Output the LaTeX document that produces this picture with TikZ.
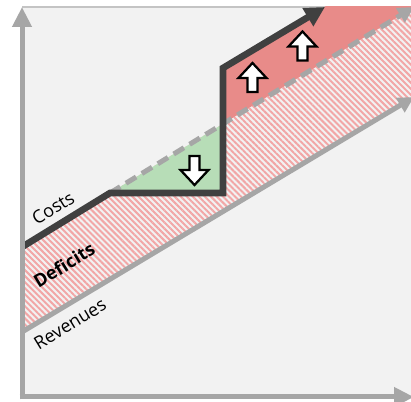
\documentclass[tikz,border=0pt]{standalone}
\usepackage{fontspec}
\setmainfont{Open Sans}
\usetikzlibrary{arrows.meta,patterns.meta}
\definecolor{chartbg}{HTML}{F2F2F2}
\definecolor{framegray}{HTML}{C4C4C4}
\definecolor{axisgray}{HTML}{A6A6A6}
\definecolor{costdark}{HTML}{404040}
\definecolor{gaingreen}{HTML}{B7DDB7}
\definecolor{lossred}{HTML}{E88B89}
\definecolor{hatchred}{HTML}{F2A6A6}

\begin{document}
\begin{tikzpicture}[x=0.75pt,y=-0.75pt,
		axisline/.style={draw=axisgray,line width=3.75pt,-{Triangle[length=15pt,width=14pt]}},
		trendline/.style={draw=axisgray,line width=3.75pt,-{Triangle[length=12pt,width=12pt]}},
		costline/.style={draw=costdark,line width=5pt,line cap=round,-{Triangle[length=15pt,width=15pt]}},
		blockarrow/.style={draw=black,fill=white,line width=1.7pt},
		axistext/.style={font=\fontsize{13.5}{15}\selectfont,rotate=31.4}]
		\clip (0,0) rectangle (411,402);
		\coordinate (C0) at (22,247);
		\coordinate (C1) at (110,193);
		\coordinate (C2) at (223,193);
		\coordinate (C3) at (223,68);
		\coordinate (C4) at (325,7);
		\coordinate (M) at (223,123.8);
		\coordinate (T1) at (414,7);
		\coordinate (R0) at (22,332);
		\coordinate (R1) at (414,97);
		\coordinate (UP1) at (252.5,78);
		\coordinate (UP2) at (302.5,46.5);
		\coordinate (DN1) at (194.5,170);

		\fill[chartbg] (22,7) rectangle (411,397);
		\draw[framegray,line width=0.8pt] (22,7) -- (411,7);
		\begin{scope}
		\clip (22,7) rectangle (411,397);
		\fill[pattern={Lines[angle=-45,distance=3.2pt,line width=1.5pt]},pattern color=hatchred] (C0) -- (T1) -- (R1) -- (R0) -- cycle;
		\fill[gaingreen] (C1) -- (C2) -- (M) -- cycle;
		\fill[lossred] (M) -- (C3) -- (336,0) -- (414,0) -- (T1) -- cycle;
		\draw[trendline] (R0) -- (R1);
		\draw[trendline,dash pattern=on 9pt off 5pt] (C1) -- (T1);
		\draw[costline] (C0) -- (C1) -- (C2) -- (C3) -- (C4);
		\end{scope}

		\foreach \p in {UP1,UP2}
		\draw[blockarrow] (\p) ++(0,-15) -- ++(14,15) -- ++(-9,0) -- ++(0,14) -- ++(-10,0) -- ++(0,-14) -- ++(-9,0) -- cycle;
		\draw[blockarrow] (DN1) ++(0,15) -- ++(14,-15) -- ++(-9,0) -- ++(0,-14) -- ++(-10,0) -- ++(0,14) -- ++(-9,0) -- cycle;

		\draw[axisline] (22,399.5) -- (22,7);
		\draw[axisline] (19.5,397) -- (414,397);

		\node[axistext] (costs) at (53,208) {Costs};
		\node[axistext,font=\fontsize{13.5}{15}\selectfont\bfseries] (deficits) at (64,265) {Deficits};
		\node[axistext] (revenues) at (70,324) {Revenues};
	    \end{tikzpicture}
\end{document}
